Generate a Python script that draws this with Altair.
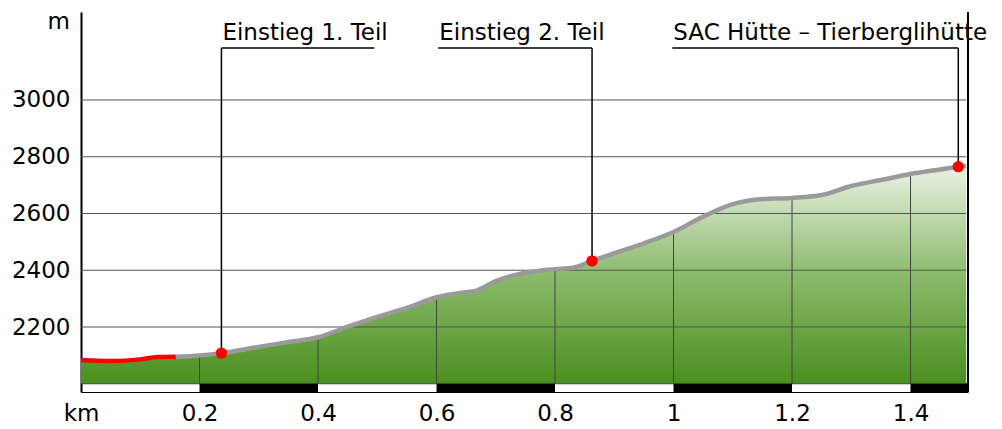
import altair as alt
import pandas as pd
import numpy as np

# ---- data ----
km = [0.0, 0.05, 0.10, 0.13, 0.16, 0.20, 0.237, 0.30, 0.35, 0.40, 0.45, 0.50, 0.55,
      0.60, 0.65, 0.665, 0.70, 0.75, 0.80, 0.83, 0.8625, 0.90, 0.95, 1.00, 1.05,
      1.10, 1.15, 1.20, 1.25, 1.30, 1.35, 1.40, 1.45, 1.4806, 1.494]
elev = [2084, 2080, 2086, 2094, 2095, 2100, 2108, 2130, 2147, 2164, 2201, 2236, 2267,
        2305, 2323, 2327, 2362, 2391, 2404, 2409, 2433, 2460, 2495, 2535, 2589,
        2633, 2651, 2655, 2665, 2697, 2718, 2739, 2755, 2765, 2767]
red_end_km = 0.16

poi_names = ["Einstieg 1. Teil", "Einstieg 2. Teil", "SAC Hütte – Tierberglihütte"]
poi_km = [0.237, 0.8625, 1.4806]
poi_elev = [2108, 2433, 2765]
label_start_km = [0.237, 0.603, 0.998]
label_end_km = [0.495, 0.8625, 1.4806]

x_ticks = [0, 0.2, 0.4, 0.6, 0.8, 1.0, 1.2, 1.4]
y_ticks = [2200, 2400, 2600, 2800, 3000]
bar_start = [0.2, 0.6, 1.0, 1.4]
bar_end = [0.4, 0.8, 1.2, 1.497]

X_MAX = 1.497
Y_MIN, Y_MAX = 1971, 3310
BASE = 2000
CALLOUT_Y = 3183
LABEL_Y = 3211
M_Y = 3275
FONT = "DejaVu Sans"
FS = 23

prof = pd.DataFrame({"km": km, "elev": elev})
red = prof[prof.km <= red_end_km]
gray = prof[prof.km >= red_end_km]
vg = pd.DataFrame({"km": x_ticks[1:], "elev": np.interp(x_ticks[1:], km, elev)})
hg = pd.DataFrame({"elev": y_ticks})
bars = pd.DataFrame({"a": bar_start, "b": bar_end})
poi = pd.DataFrame({"name": poi_names, "km": poi_km, "elev": poi_elev,
                    "ls": label_start_km, "le": label_end_km})

xs = alt.Scale(domain=[0, X_MAX], nice=False, zero=False)
ys = alt.Scale(domain=[Y_MIN, Y_MAX], nice=False, zero=False)

grad = alt.Gradient(gradient="linear", x1=0, x2=0, y1=1, y2=0,
                    stops=[alt.GradientStop(color="#4a8f1e", offset=0),
                           alt.GradientStop(color="#8cba6c", offset=0.5),
                           alt.GradientStop(color="#ebf2e6", offset=1)])

area = alt.Chart(prof).mark_area(color=grad, interpolate="monotone").encode(
    x=alt.X("km:Q", scale=xs, axis=alt.Axis(
        values=x_ticks, grid=False, ticks=False, domain=True, domainColor="#000",
        domainWidth=1, labelFontSize=FS, labelFont=FONT, labelColor="#000",
        labelPadding=10.5, title=None, labelFlush=False,
        labelExpr="datum.value == 0 ? 'km' : format(datum.value, '~g')")),
    y=alt.Y("elev:Q", scale=ys, axis=alt.Axis(
        values=y_ticks, grid=False, ticks=False, domain=True, domainColor="#000",
        domainWidth=2, labelFontSize=FS, labelFont=FONT, labelColor="#000",
        labelPadding=11, title=None, labelFlush=False, format="d")),
    y2=alt.datum(BASE),
)

hgrid = alt.Chart(hg).mark_rule(color="#555", strokeWidth=1).encode(
    y=alt.Y("elev:Q", scale=ys),
    x=alt.datum(0, scale=xs), x2=alt.datum(1.494))

vgrid = alt.Chart(vg).mark_rule(color="#444", strokeWidth=1).encode(
    x=alt.X("km:Q", scale=xs),
    y=alt.Y("elev:Q", scale=ys), y2=alt.datum(BASE))

baseline = alt.Chart(hg.head(1)).mark_rule(color="#444", strokeWidth=1).encode(
    y=alt.datum(BASE, scale=ys), x=alt.datum(0, scale=xs), x2=alt.datum(X_MAX))

scalebar = alt.Chart(bars).mark_rect(color="#000").encode(
    x=alt.X("a:Q", scale=xs), x2="b:Q",
    y=alt.datum(Y_MIN, scale=ys), y2=alt.datum(BASE))

right_line = alt.Chart(hg.head(1)).mark_rule(color="#000", strokeWidth=2).encode(
    x=alt.datum(X_MAX, scale=xs), y=alt.datum(Y_MIN, scale=ys), y2=alt.datum(Y_MAX))

gray_line = alt.Chart(gray).mark_line(color="#9a9a9a", strokeWidth=4.5,
                                      interpolate="monotone", strokeCap="butt").encode(
    x=alt.X("km:Q", scale=xs), y=alt.Y("elev:Q", scale=ys))

red_line = alt.Chart(red).mark_line(color="#ff0000", strokeWidth=4.5,
                                    interpolate="monotone", strokeCap="butt").encode(
    x=alt.X("km:Q", scale=xs), y=alt.Y("elev:Q", scale=ys))

vcall = alt.Chart(poi).mark_rule(color="#000", strokeWidth=1.5).encode(
    x=alt.X("km:Q", scale=xs),
    y=alt.Y("elev:Q", scale=ys), y2=alt.datum(CALLOUT_Y))

hcall = alt.Chart(poi).mark_rule(color="#000", strokeWidth=1.5).encode(
    x=alt.X("ls:Q", scale=xs), x2="le:Q",
    y=alt.datum(CALLOUT_Y, scale=ys))

labels = alt.Chart(poi).mark_text(align="left", baseline="alphabetic", fontSize=FS,
                                  font=FONT, color="#000", dx=1).encode(
    x=alt.X("ls:Q", scale=xs), y=alt.datum(LABEL_Y, scale=ys), text="name:N")

dots = alt.Chart(poi).mark_circle(color="#ff0000", size=130, opacity=1).encode(
    x=alt.X("km:Q", scale=xs), y=alt.Y("elev:Q", scale=ys))

m_label = alt.Chart(hg.head(1)).mark_text(align="right", baseline="middle", fontSize=FS,
                                          font=FONT, color="#000", dx=-11, text="m").encode(
    x=alt.datum(0, scale=xs), y=alt.datum(M_Y, scale=ys))

chart = alt.layer(area, hgrid, vgrid, baseline, scalebar, right_line, gray_line, red_line,
                  vcall, hcall, labels, dots, m_label).properties(
    width=887, height=380,
    autosize=alt.AutoSizeParams(type="none"),
    padding={"left": 73, "top": 4, "right": 26, "bottom": 29},
).configure_view(stroke=None)

chart.save("out.html", embed_options={"renderer": "svg", "actions": False})
